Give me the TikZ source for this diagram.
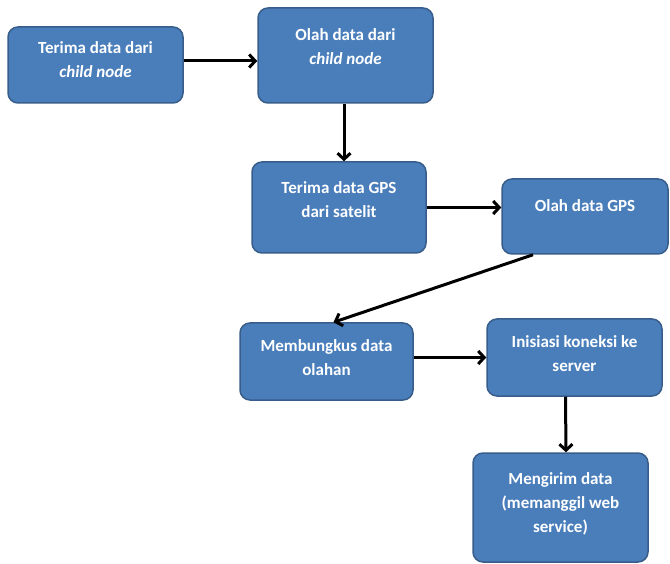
\documentclass[tikz,border=0pt]{standalone}
\usepackage{fontspec}
\setmainfont{Carlito}
\usetikzlibrary{arrows.meta}
\definecolor{boxblue}{HTML}{4A7EBB}
\definecolor{boxedge}{HTML}{385D8A}
\begin{document}
\begin{tikzpicture}[x=1pt,y=-1pt,
        box/.style={draw=boxedge,line width=1.5pt,fill=boxblue,rounded corners=10pt,inner sep=0pt},
        txt/.style={text=white,font=\fontsize{17}{24}\selectfont\bfseries,align=center},
        arr/.style={-{Straight Barb[length=6pt,width=13pt]},line width=3pt}]
        \useasboundingbox (0,0) rectangle (670,564);

        \node[box,minimum width=175pt,minimum height=76pt] (b1) at (95.5,65) {};
        \node[box,minimum width=175pt,minimum height=95pt] (b2) at (345.5,55.5) {};
        \node[box,minimum width=174pt,minimum height=91pt] (b3) at (339,207.5) {};
        \node[box,minimum width=166pt,minimum height=75pt] (b4) at (585,216.5) {};
        \node[box,minimum width=173pt,minimum height=77pt] (b5) at (326.5,361.5) {};
        \node[box,minimum width=175pt,minimum height=77pt] (b6) at (574.5,357.5) {};
        \node[box,minimum width=175pt,minimum height=109pt] (b7) at (560.5,507.5) {};

        \node[txt] (t1) at ([yshift=5pt]b1) {Terima data dari\\\textit{child node}};
        \node[txt] (t2) at ([yshift=8.5pt]b2) {Olah data dari\\\textit{child node}};
        \node[txt] (t3) at ([yshift=7.5pt]b3) {Terima data GPS\\dari satelit};
        \node[txt] (t4) at ([yshift=10.5pt]b4) {Olah data GPS};
        \node[txt] (t5) at ([yshift=3.5pt]b5) {Membungkus data\\olahan};
        \node[txt] (t6) at ([yshift=3.5pt]b6) {Inisiasi koneksi ke\\server};
        \node[txt] (t7) at ([yshift=3.5pt]b7) {Mengirim data\\(memanggil web\\service)};

        \path [arr] ([yshift=4pt]b1.east) edge node {} ([yshift=-5.5pt]b2.west);
        \path [arr] ([xshift=-1.5pt]b2.south) edge node {} ([xshift=5pt]b3.north);
        \path [arr] (b3.east) edge node {} (b3.east -| b4.west);
        \path [arr] ([xshift=-52pt]b4.south) edge node {} ([xshift=7pt]b5.north);
        \path [arr] (b6.west -| b5.east) edge node {} (b6.west);
        \path [arr] ([xshift=-9pt]b6.south) edge node {} ([xshift=5.5pt]b7.north);
\end{tikzpicture}
\end{document}
